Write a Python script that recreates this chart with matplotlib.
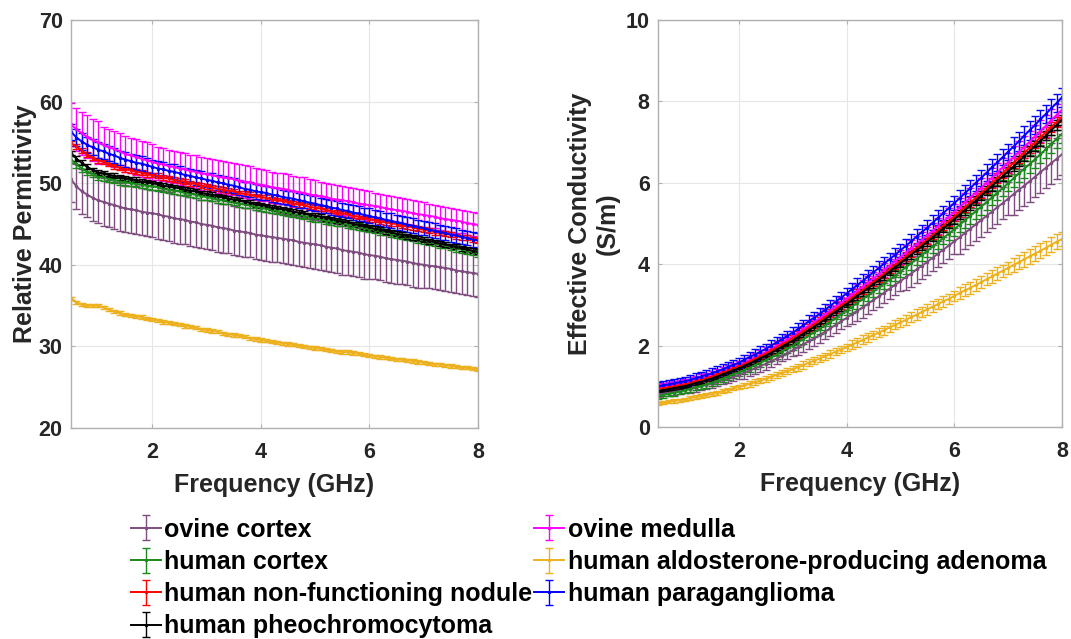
import numpy as np
import matplotlib.pyplot as plt

plt.rcParams['font.family'] = ['Liberation Sans', 'DejaVu Sans']
plt.rcParams['font.weight'] = 'bold'

# measurement grid, 0.5 - 8 GHz in 0.1 GHz steps
freq = np.round(np.arange(0.5, 8.05, 0.1), 1)

names = ['ovine cortex', 'ovine medulla', 'human cortex',
         'human aldosterone-producing adenoma', 'human non-functioning nodule',
         'human paraganglioma', 'human pheochromocytoma']
colors = ['#7f4c80', '#ff00ff', '#1a8a1a', '#edb120', '#ff0000', '#0000ff', '#000000']

# ---- relative permittivity (mean) ----
eps_ovine_cortex = [50.5, 49.6, 49.0, 48.6, 48.2, 47.9, 47.7, 47.5, 47.3, 47.1, 46.9,
    46.8, 46.7, 46.5, 46.4, 46.3, 46.2, 46.0, 45.9, 45.7, 45.6, 45.5, 45.3, 45.2, 45.0, 44.9,
    44.8, 44.6, 44.5, 44.4, 44.2, 44.1, 44.0, 43.9, 43.7, 43.6, 43.5, 43.4, 43.3, 43.2, 43.1,
    43.0, 42.8, 42.7, 42.6, 42.5, 42.4, 42.2, 42.1, 42.0, 41.8, 41.7, 41.6, 41.5, 41.3, 41.2,
    41.1, 41.0, 40.8, 40.7, 40.6, 40.5, 40.4, 40.2, 40.1, 40.0, 39.9, 39.8, 39.7, 39.6, 39.5,
    39.3, 39.2, 39.1, 39.0, 38.9]
eps_ovine_medulla = [57.2, 56.6, 56.1, 55.7, 55.3, 55.0, 54.7, 54.4, 54.2, 53.9, 53.6,
    53.4, 53.2, 53.0, 52.8, 52.6, 52.4, 52.3, 52.1, 52.0, 51.8, 51.7, 51.5, 51.4, 51.2, 51.1,
    51.0, 50.8, 50.7, 50.6, 50.5, 50.3, 50.2, 50.1, 49.9, 49.8, 49.7, 49.5, 49.4, 49.3, 49.2,
    49.0, 48.9, 48.8, 48.6, 48.5, 48.4, 48.3, 48.1, 48.0, 47.9, 47.8, 47.7, 47.5, 47.4, 47.3,
    47.2, 47.1, 46.9, 46.8, 46.7, 46.6, 46.5, 46.3, 46.2, 46.1, 46.0, 45.9, 45.7, 45.6, 45.5,
    45.4, 45.3, 45.1, 45.0, 44.9]
eps_human_cortex = [52.9, 52.3, 51.8, 51.4, 51.1, 50.8, 50.7, 50.5, 50.4, 50.2, 50.1,
    50.0, 49.9, 49.8, 49.7, 49.6, 49.5, 49.3, 49.2, 49.1, 49.0, 48.8, 48.7, 48.6, 48.4, 48.3,
    48.2, 48.0, 47.9, 47.8, 47.7, 47.5, 47.4, 47.3, 47.1, 47.0, 46.9, 46.7, 46.6, 46.5, 46.4,
    46.2, 46.1, 46.0, 45.8, 45.7, 45.6, 45.4, 45.3, 45.2, 45.1, 44.9, 44.8, 44.7, 44.5, 44.4,
    44.3, 44.1, 44.0, 43.8, 43.7, 43.6, 43.4, 43.3, 43.1, 43.0, 42.8, 42.7, 42.5, 42.4, 42.2,
    42.0, 41.9, 41.7, 41.6, 41.4]
eps_apa = [35.9, 35.4, 35.1, 35.0, 35.0, 35.0, 34.8, 34.5, 34.3, 34.1, 33.9,
    33.8, 33.7, 33.6, 33.4, 33.3, 33.2, 33.0, 32.9, 32.8, 32.7, 32.5, 32.4, 32.3, 32.1, 32.0,
    31.9, 31.8, 31.6, 31.5, 31.4, 31.3, 31.2, 31.0, 30.9, 30.8, 30.7, 30.6, 30.5, 30.4, 30.3,
    30.2, 30.1, 30.0, 29.9, 29.8, 29.7, 29.6, 29.5, 29.4, 29.3, 29.3, 29.2, 29.1, 29.0, 28.9,
    28.8, 28.7, 28.6, 28.5, 28.4, 28.4, 28.3, 28.2, 28.1, 28.0, 27.9, 27.8, 27.8, 27.7, 27.6,
    27.5, 27.4, 27.4, 27.3, 27.2]
eps_nfn = [54.9, 54.5, 54.0, 53.5, 53.1, 52.8, 52.6, 52.4, 52.1, 51.9, 51.7,
    51.6, 51.4, 51.3, 51.1, 51.0, 50.9, 50.7, 50.6, 50.4, 50.3, 50.2, 50.0, 49.9, 49.7, 49.6,
    49.5, 49.3, 49.2, 49.1, 49.0, 48.8, 48.7, 48.6, 48.4, 48.3, 48.2, 48.0, 47.9, 47.8, 47.7,
    47.5, 47.4, 47.3, 47.1, 47.0, 46.9, 46.7, 46.6, 46.4, 46.3, 46.2, 46.0, 45.9, 45.7, 45.6,
    45.5, 45.3, 45.2, 45.1, 45.0, 44.8, 44.7, 44.6, 44.4, 44.3, 44.2, 44.0, 43.9, 43.8, 43.7,
    43.5, 43.4, 43.3, 43.1, 43.0]
eps_pgl = [56.3, 55.6, 55.1, 54.7, 54.4, 54.1, 53.9, 53.6, 53.4, 53.1, 52.9,
    52.7, 52.5, 52.4, 52.2, 52.0, 51.8, 51.7, 51.5, 51.4, 51.2, 51.0, 50.9, 50.7, 50.6, 50.4,
    50.3, 50.1, 50.0, 49.8, 49.7, 49.5, 49.3, 49.2, 49.0, 48.9, 48.8, 48.6, 48.5, 48.3, 48.2,
    48.1, 47.9, 47.8, 47.6, 47.5, 47.3, 47.2, 47.0, 46.9, 46.7, 46.6, 46.4, 46.3, 46.1, 46.0,
    45.8, 45.7, 45.5, 45.4, 45.2, 45.1, 44.9, 44.8, 44.6, 44.5, 44.3, 44.2, 44.0, 43.9, 43.7,
    43.6, 43.4, 43.3, 43.1, 43.0]
eps_pheo = [53.7, 53.0, 52.5, 52.0, 51.6, 51.3, 51.2, 51.0, 50.9, 50.7, 50.6,
    50.5, 50.4, 50.2, 50.1, 50.0, 49.9, 49.7, 49.6, 49.5, 49.4, 49.2, 49.1, 49.0, 48.8, 48.7,
    48.6, 48.4, 48.3, 48.1, 48.0, 47.9, 47.7, 47.6, 47.4, 47.3, 47.2, 47.0, 46.9, 46.8, 46.7,
    46.5, 46.4, 46.3, 46.1, 46.0, 45.9, 45.7, 45.6, 45.4, 45.3, 45.2, 45.0, 44.9, 44.7, 44.6,
    44.4, 44.3, 44.1, 44.0, 43.8, 43.7, 43.5, 43.4, 43.2, 43.1, 42.9, 42.8, 42.6, 42.5, 42.3,
    42.2, 42.0, 41.9, 41.7, 41.6]

# ---- effective conductivity (mean, S/m) ----
sig_ovine_cortex = [0.80, 0.82, 0.84, 0.86, 0.88, 0.90, 0.93, 0.96, 1.00, 1.03,
    1.06, 1.10, 1.15, 1.19, 1.24, 1.28, 1.33, 1.39, 1.44, 1.50, 1.55, 1.62, 1.68, 1.75, 1.81,
    1.88, 1.96, 2.03, 2.11, 2.18, 2.26, 2.34, 2.43, 2.51, 2.60, 2.68, 2.77, 2.86, 2.94, 3.03,
    3.12, 3.21, 3.30, 3.40, 3.49, 3.58, 3.68, 3.77, 3.87, 3.96, 4.06, 4.16, 4.26, 4.36, 4.46,
    4.56, 4.66, 4.77, 4.87, 4.98, 5.08, 5.19, 5.29, 5.40, 5.50, 5.61, 5.72, 5.83, 5.93, 6.04,
    6.15, 6.26, 6.37, 6.48, 6.59, 6.70]
sig_ovine_medulla = [0.96, 0.98, 1.01, 1.03, 1.06, 1.08, 1.12, 1.16, 1.19, 1.23,
    1.27, 1.32, 1.37, 1.42, 1.47, 1.52, 1.58, 1.65, 1.71, 1.78, 1.84, 1.92, 2.00, 2.07, 2.15,
    2.23, 2.32, 2.41, 2.49, 2.58, 2.67, 2.77, 2.86, 2.96, 3.05, 3.15, 3.25, 3.35, 3.45, 3.55,
    3.65, 3.75, 3.86, 3.96, 4.07, 4.17, 4.28, 4.39, 4.49, 4.60, 4.71, 4.82, 4.94, 5.05, 5.17,
    5.28, 5.40, 5.52, 5.64, 5.76, 5.88, 6.00, 6.13, 6.25, 6.38, 6.50, 6.63, 6.76, 6.88, 7.01,
    7.14, 7.27, 7.40, 7.54, 7.67, 7.80]
sig_human_cortex = [0.76, 0.79, 0.82, 0.84, 0.87, 0.90, 0.94, 0.98, 1.01, 1.05,
    1.09, 1.14, 1.19, 1.24, 1.29, 1.34, 1.40, 1.46, 1.52, 1.58, 1.64, 1.71, 1.78, 1.86, 1.93,
    2.00, 2.08, 2.16, 2.25, 2.33, 2.41, 2.50, 2.59, 2.68, 2.77, 2.86, 2.95, 3.05, 3.14, 3.24,
    3.33, 3.43, 3.53, 3.62, 3.72, 3.82, 3.92, 4.02, 4.13, 4.23, 4.33, 4.44, 4.54, 4.65, 4.75,
    4.86, 4.97, 5.08, 5.19, 5.30, 5.41, 5.53, 5.64, 5.76, 5.87, 5.99, 6.11, 6.23, 6.34, 6.46,
    6.58, 6.70, 6.83, 6.95, 7.08, 7.20]
sig_apa = [0.58, 0.60, 0.62, 0.64, 0.66, 0.68, 0.71, 0.73, 0.76, 0.78,
    0.81, 0.84, 0.88, 0.91, 0.95, 0.98, 1.02, 1.06, 1.10, 1.14, 1.18, 1.23, 1.28, 1.32, 1.37,
    1.42, 1.47, 1.52, 1.58, 1.63, 1.68, 1.74, 1.79, 1.85, 1.90, 1.96, 2.02, 2.08, 2.14, 2.20,
    2.26, 2.32, 2.38, 2.45, 2.51, 2.57, 2.63, 2.70, 2.76, 2.83, 2.89, 2.96, 3.02, 3.09, 3.15,
    3.22, 3.29, 3.36, 3.42, 3.49, 3.56, 3.63, 3.70, 3.77, 3.84, 3.91, 3.98, 4.05, 4.12, 4.19,
    4.26, 4.33, 4.40, 4.48, 4.55, 4.62]
sig_nfn = [0.93, 0.95, 0.98, 1.00, 1.03, 1.05, 1.09, 1.13, 1.16, 1.20,
    1.24, 1.29, 1.34, 1.39, 1.44, 1.49, 1.55, 1.61, 1.68, 1.74, 1.80, 1.88, 1.95, 2.03, 2.10,
    2.18, 2.27, 2.35, 2.44, 2.52, 2.61, 2.70, 2.80, 2.89, 2.99, 3.08, 3.18, 3.28, 3.37, 3.47,
    3.57, 3.67, 3.77, 3.88, 3.98, 4.08, 4.19, 4.29, 4.40, 4.50, 4.61, 4.72, 4.83, 4.95, 5.06,
    5.17, 5.29, 5.40, 5.52, 5.63, 5.75, 5.87, 5.99, 6.12, 6.24, 6.36, 6.49, 6.61, 6.74, 6.86,
    6.99, 7.12, 7.24, 7.37, 7.49, 7.62]
sig_pgl = [1.00, 1.02, 1.05, 1.07, 1.10, 1.12, 1.16, 1.20, 1.24, 1.28,
    1.32, 1.37, 1.42, 1.48, 1.53, 1.58, 1.65, 1.72, 1.78, 1.85, 1.92, 2.00, 2.08, 2.16, 2.24,
    2.32, 2.41, 2.50, 2.60, 2.69, 2.78, 2.88, 2.98, 3.08, 3.18, 3.28, 3.38, 3.49, 3.59, 3.70,
    3.80, 3.91, 4.02, 4.12, 4.23, 4.34, 4.45, 4.56, 4.68, 4.79, 4.90, 5.02, 5.14, 5.26, 5.38,
    5.50, 5.62, 5.75, 5.87, 6.00, 6.12, 6.25, 6.38, 6.50, 6.63, 6.76, 6.89, 7.02, 7.16, 7.29,
    7.42, 7.56, 7.69, 7.83, 7.96, 8.10]
sig_pheo = [0.88, 0.90, 0.93, 0.95, 0.98, 1.00, 1.04, 1.08, 1.11, 1.15,
    1.19, 1.24, 1.29, 1.34, 1.39, 1.44, 1.50, 1.56, 1.63, 1.69, 1.75, 1.82, 1.90, 1.97, 2.05,
    2.12, 2.21, 2.29, 2.38, 2.46, 2.55, 2.64, 2.74, 2.83, 2.93, 3.02, 3.12, 3.22, 3.31, 3.41,
    3.51, 3.61, 3.71, 3.82, 3.92, 4.02, 4.13, 4.23, 4.34, 4.44, 4.55, 4.66, 4.77, 4.88, 4.99,
    5.10, 5.22, 5.33, 5.45, 5.56, 5.68, 5.80, 5.92, 6.04, 6.16, 6.28, 6.40, 6.53, 6.65, 6.78,
    6.90, 7.03, 7.16, 7.29, 7.42, 7.55]

# ---- standard deviations ----
# read per frequency band: 0.5-1.0, 1.1-2.0, 2.1-3.0, ..., 7.1-8.0 GHz
band_len = [6, 10, 10, 10, 10, 10, 10, 10]
eps_std_ovine_cortex = [2.8, 2.9, 3.0, 3.0, 3.0, 3.0, 2.9, 2.8]
eps_std_ovine_medulla = [2.6, 2.2, 2.0, 2.0, 1.9, 1.75, 1.6, 1.45]
eps_std_human_cortex = [0.4] * 8
eps_std_apa = [0.2] * 8
eps_std_nfn = [0.3] * 8
eps_std_pgl = [1.0, 0.9, 0.9, 0.9, 0.9, 0.9, 0.9, 0.9]
eps_std_pheo = [0.3] * 8

sig_std_ovine_cortex = [0.07, 0.10, 0.14, 0.19, 0.25, 0.32, 0.40, 0.50]
sig_std_ovine_medulla = [0.09, 0.10, 0.12, 0.14, 0.17, 0.20, 0.23, 0.27]
sig_std_human_cortex = [0.07, 0.08, 0.10, 0.12, 0.14, 0.16, 0.19, 0.22]
sig_std_apa = [0.04, 0.05, 0.07, 0.09, 0.11, 0.13, 0.15, 0.18]
sig_std_nfn = [0.06, 0.07, 0.08, 0.09, 0.10, 0.11, 0.12, 0.13]
sig_std_pgl = [0.11, 0.12, 0.13, 0.14, 0.16, 0.18, 0.20, 0.23]
sig_std_pheo = [0.05, 0.06, 0.07, 0.08, 0.09, 0.10, 0.11, 0.12]

eps_mean = [eps_ovine_cortex, eps_ovine_medulla, eps_human_cortex, eps_apa,
            eps_nfn, eps_pgl, eps_pheo]
eps_std = [eps_std_ovine_cortex, eps_std_ovine_medulla, eps_std_human_cortex,
           eps_std_apa, eps_std_nfn, eps_std_pgl, eps_std_pheo]
sig_mean = [sig_ovine_cortex, sig_ovine_medulla, sig_human_cortex, sig_apa,
            sig_nfn, sig_pgl, sig_pheo]
sig_std = [sig_std_ovine_cortex, sig_std_ovine_medulla, sig_std_human_cortex,
           sig_std_apa, sig_std_nfn, sig_std_pgl, sig_std_pheo]


def style_axes(ax):
    ax.grid(True, color='#e6e6e6', linewidth=0.8)
    ax.set_axisbelow(True)
    for s in ax.spines.values():
        s.set_color('#b0b0b0')
        s.set_linewidth(1.0)
    ax.tick_params(direction='in', length=3, width=0.8, color='#b0b0b0',
                   labelsize=15.5, labelcolor='#262626', top=True, right=True)
    ax.tick_params(axis='x', pad=10)
    ax.tick_params(axis='y', pad=6)
    for lab in ax.get_xticklabels() + ax.get_yticklabels():
        lab.set_fontweight('bold')


fig = plt.figure(figsize=(10.71, 6.39), dpi=100)
ax1 = fig.add_axes([71 / 1071, 211 / 639, 407 / 1071, 408 / 639])
ax2 = fig.add_axes([658 / 1071, 212 / 639, 404 / 1071, 407 / 639])

handles = []
for i in range(len(names)):
    ys = np.repeat(eps_std[i], band_len)
    h = ax1.errorbar(freq, eps_mean[i], yerr=ys, color=colors[i], lw=1.4,
                     elinewidth=1.0, capsize=2.8, capthick=1.0, marker='.',
                     markersize=3)
    handles.append(h)
    ys = np.repeat(sig_std[i], band_len)
    ax2.errorbar(freq, sig_mean[i], yerr=ys, color=colors[i], lw=1.4,
                 elinewidth=1.0, capsize=2.8, capthick=1.0, marker='.',
                 markersize=3)

ax1.set_xlim(0.5, 8)
ax1.set_ylim(20, 70)
ax1.set_xticks([2, 4, 6, 8])
ax1.set_yticks([20, 30, 40, 50, 60, 70])
ax1.set_xlabel('Frequency (GHz)', fontsize=18, fontweight='bold', color='#262626',
               labelpad=7)
ax1.set_ylabel('Relative Permittivity', fontsize=18, fontweight='bold', color='#262626',
               labelpad=1)
style_axes(ax1)

ax2.set_xlim(0.5, 8)
ax2.set_ylim(0, 10)
ax2.set_xticks([2, 4, 6, 8])
ax2.set_yticks([0, 2, 4, 6, 8, 10])
ax2.set_xlabel('Frequency (GHz)', fontsize=18, fontweight='bold', color='#262626',
               labelpad=7)
ax2.set_ylabel('Effective Conductivity\n(S/m)', fontsize=18, fontweight='bold',
               color='#262626', multialignment='center')
style_axes(ax2)

# legend order as in the figure (two columns, filled column by column)
order = [0, 2, 4, 6, 1, 3, 5]
fig.legend([handles[k] for k in order], [names[k] for k in order],
           loc='upper left', bbox_to_anchor=(0.122, 0.19), ncol=2,
           frameon=False, borderpad=0, borderaxespad=0, handlelength=1.2,
           handletextpad=0.15, columnspacing=0.05, labelspacing=0.33,
           prop={'size': 18, 'weight': 'bold'})

fig.savefig('out.png', dpi=100)
